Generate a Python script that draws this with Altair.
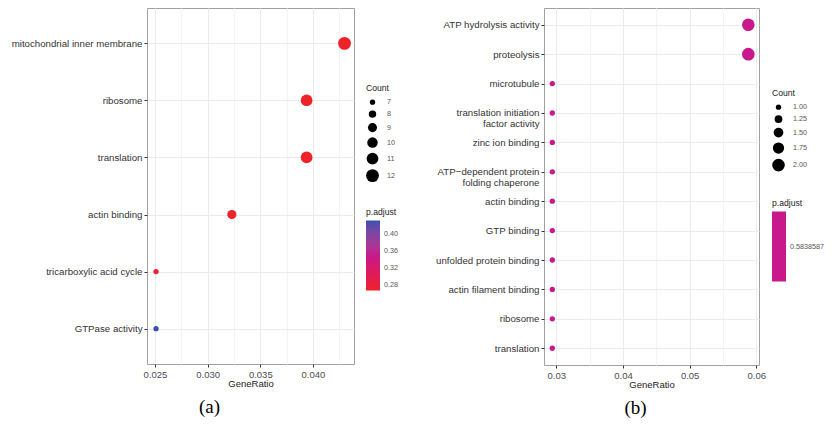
import altair as alt
import pandas as pd

# ---- data: panel (a)
terms_a = ["mitochondrial inner membrane", "ribosome", "translation",
           "actin binding", "tricarboxylic acid cycle", "GTPase activity"]
ratio_a = [0.0430, 0.0394, 0.0394, 0.0323, 0.0251, 0.0251]
count_a = [12, 11, 11, 9, 7, 7]
padj_a = [0.268, 0.268, 0.268, 0.268, 0.268, 0.430]
xticks_a = [0.025, 0.0275, 0.030, 0.0325, 0.035, 0.0375, 0.040, 0.0425]
count_legend_a = [7, 8, 9, 10, 11, 12]
padj_legend_a = [0.28, 0.32, 0.36, 0.40]

# ---- data: panel (b)
terms_b = ["ATP hydrolysis activity", "proteolysis", "microtubule",
           "translation initiation\nfactor activity", "zinc ion binding",
           "ATP\u2212dependent protein\nfolding chaperone", "actin binding",
           "GTP binding", "unfolded protein binding", "actin filament binding",
           "ribosome", "translation"]
ratio_b = [0.0588, 0.0588, 0.0294, 0.0294, 0.0294, 0.0294,
           0.0294, 0.0294, 0.0294, 0.0294, 0.0294, 0.0294]
count_b = [2, 2, 1, 1, 1, 1, 1, 1, 1, 1, 1, 1]
padj_b = [0.5838587] * 12
xticks_b = [0.03, 0.035, 0.04, 0.045, 0.05, 0.055, 0.06]
count_legend_b = [1.00, 1.25, 1.50, 1.75, 2.00]
padj_legend_b = [0.5838587]

df_a = pd.DataFrame({"term": terms_a, "ratio": ratio_a, "count": count_a, "padj": padj_a})
df_b = pd.DataFrame({"term": terms_b, "ratio": ratio_b, "count": count_b, "padj": padj_b})

FONT = "Liberation Sans"
SERIF = "Liberation Serif"


def x_axis(values, mult, fmt):
    test = f"abs(datum.value*{mult} - round(datum.value*{mult})) < 0.01"
    return alt.Axis(
        values=values, title="GeneRatio",
        labelExpr=f"({test}) ? format(datum.value, '{fmt}') : ''",
        tickOpacity={"condition": {"test": test, "value": 1}, "value": 0},
        gridColor={"condition": {"test": test, "value": "#EBEBEB"}, "value": "#F4F4F4"},
        grid=True, domain=False, tickColor="#333333", tickSize=3,
        labelFont=FONT, labelFontSize=9.5, labelColor="#4D4D4D", labelPadding=2,
        titleFont=FONT, titleFontSize=9.5, titleFontWeight="normal",
        titleColor="#222222", titlePadding=0,
    )


def y_axis():
    return alt.Axis(
        title=None, labelExpr="split(datum.label, '\\n')", labelLineHeight=10.5,
        labelFont=FONT, labelFontSize=9.7, labelColor="#333333", labelLimit=300,
        labelPadding=2, tickColor="#333333", tickSize=3, grid=True,
        gridColor="#EBEBEB", domain=False,
    )


def size_legend(values, fmt, lx, ly):
    return alt.Legend(
        title="Count", values=values, format=fmt, orient="none",
        legendX=lx, legendY=ly, symbolType="circle", symbolFillColor="black",
        symbolStrokeWidth=0, symbolOpacity=1, titleFont=FONT, titleFontSize=8.6,
        titleFontWeight="normal", titleColor="#222222", labelFont=FONT,
        labelFontSize=7.2, labelColor="#555555", rowPadding=4.5, titlePadding=6,
        labelOffset=8,
    )


def color_legend(values, fmt, lx, ly):
    return alt.Legend(
        title="p.adjust", values=values, format=fmt, orient="none",
        legendX=lx, legendY=ly, gradientLength=70, gradientThickness=14,
        gradientStrokeWidth=0, titleFont=FONT, titleFontSize=8.6,
        titleFontWeight="normal", titleColor="#222222", labelFont=FONT,
        labelFontSize=7.2, labelColor="#555555", titlePadding=4, labelOffset=4,
        tickCount=4,
    )


def caption(text, dx):
    return alt.TitleParams(text, orient="bottom", frame="group", anchor="middle",
                           dx=dx, font=SERIF, fontSize=19, fontWeight="normal",
                           color="black", offset=10)


chart_a = alt.Chart(df_a).mark_circle(opacity=1).encode(
    x=alt.X("ratio:Q", scale=alt.Scale(domain=[0.02424, 0.0439], nice=False, zero=False),
            axis=x_axis(xticks_a, 200, ".3f")),
    y=alt.Y("term:N", sort=terms_a, scale=alt.Scale(type="point", padding=0.62), axis=y_axis()),
    size=alt.Size("count:Q", scale=alt.Scale(domain=[7, 12], range=[28, 165], zero=False),
                  legend=size_legend(count_legend_a, "d", 219, 76)),
    color=alt.Color("padj:Q", scale=alt.Scale(domain=[0.268, 0.349, 0.43],
                                              range=["#EE2229", "#C8188C", "#3A4FB0"],
                                              interpolate="lab"),
                    legend=color_legend(padj_legend_a, ".2f", 219, 200)),
    order=alt.Order("count:Q"),
).properties(width=207, height=356, title=caption("(a)", -41))

chart_b = alt.Chart(df_b).mark_circle(opacity=1).encode(
    x=alt.X("ratio:Q", scale=alt.Scale(domain=[0.02815, 0.0604], nice=False, zero=False),
            axis=x_axis(xticks_b, 100, ".2f")),
    y=alt.Y("term:N", sort=terms_b, scale=alt.Scale(type="point", padding=0.57), axis=y_axis()),
    size=alt.Size("count:Q", scale=alt.Scale(domain=[1, 2], range=[28, 160], zero=False),
                  legend=size_legend(count_legend_b, ".2f", 228, 81)),
    color=alt.Color("padj:Q", scale=alt.Scale(domain=[0.5828587, 0.5848587],
                                              range=["#C8188C", "#C8188C"]),
                    legend=color_legend(padj_legend_b, ".7f", 228, 191)),
).properties(width=215, height=357, title=caption("(b)", -16))

chart = alt.hconcat(chart_a, chart_b, spacing=190, bounds="flush").resolve_scale(
    color="independent", size="independent"
).properties(
    padding={"left": 10, "top": 7, "right": 0, "bottom": 0},
    background="white",
).configure_view(stroke="#A0A0A0", strokeWidth=1)

chart.save("out.html", embed_options={"renderer": "svg", "actions": False})
